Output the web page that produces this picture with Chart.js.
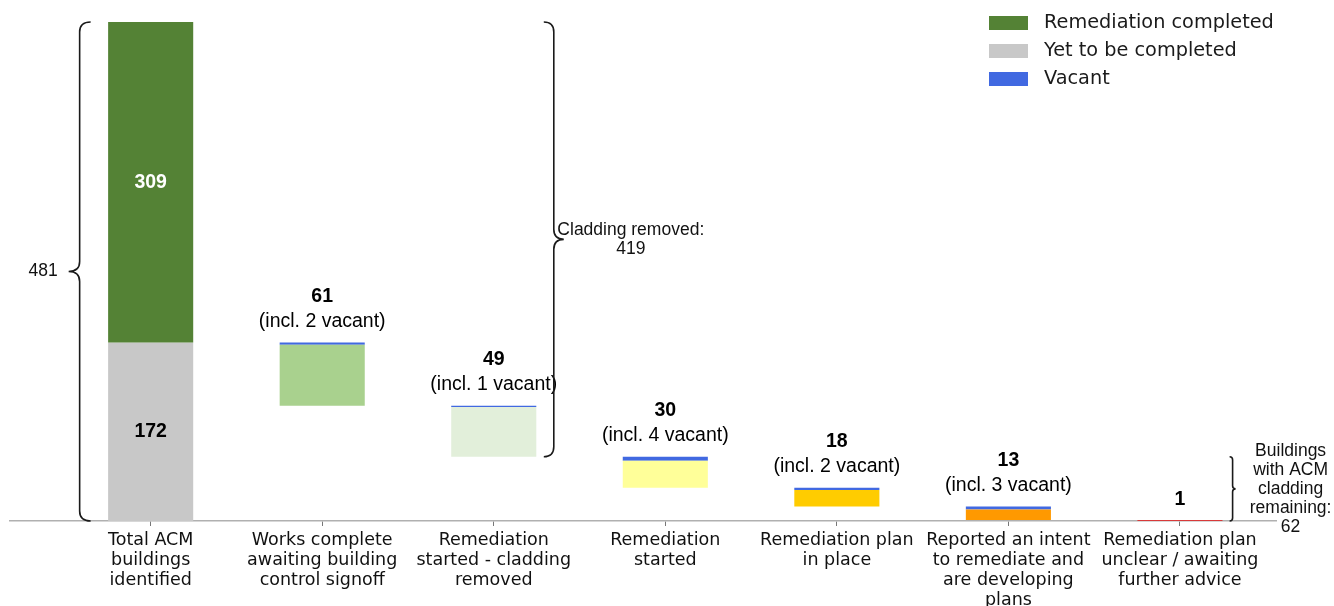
<!DOCTYPE html>
<html>
<head>
<meta charset="utf-8">
<script src="https://cdn.jsdelivr.net/npm/chart.js@4/dist/chart.umd.min.js"></script>
<style>
  html, body { margin: 0; padding: 0; background: #fff; }
  #wrap { width: 1334px; height: 606px; position: relative; }
</style>
</head>
<body>
<div id="wrap"><canvas id="acmChart"></canvas></div>
<script>
const categories = [
    ['Total ACM', 'buildings', 'identified'],
    ['Works complete', 'awaiting building', 'control signoff'],
    ['Remediation', 'started - cladding', 'removed'],
    ['Remediation', 'started'],
    ['Remediation plan', 'in place'],
    ['Reported an intent', 'to remediate and', 'are developing', 'plans'],
    ['Remediation plan', 'unclear / awaiting', 'further advice']
];

const totalBuildings = 481;
const completedCount = 309;
const yetToCompleteCount = 172;
const stageCounts = [61, 49, 30, 18, 13, 1];
const stageVacant = [2, 1, 4, 2, 3, 0];
const claddingRemoved = 419;
const claddingRemaining = 62;

const stageColors = ['#a9d18e', '#e2efda', '#ffff99', '#ffcc00', '#ff9900', '#d83a3a'];
const legendItems = [
    { text: 'Remediation completed', color: '#548235' },
    { text: 'Yet to be completed', color: '#c8c8c8' },
    { text: 'Vacant', color: '#4169e1' }
];

// build the floating segments of the waterfall
function buildSegments() {
    const stages = [];
    const vacant = [];
    let top = yetToCompleteCount;
    stageCounts.forEach((count, i) => {
        const vac = stageVacant[i];
        const bottom = top - count;
        stages.push({ x: i + 1, y: [bottom, top - vac] });
        if (vac > 0) vacant.push({ x: i + 1, y: [top - vac, top] });
        top = bottom;
    });
    return { stages, vacant };
}

const segs = buildSegments();

function drawBrace(ctx, x, yTop, yBot, dir, w, r) {
    // dir = -1: cusp points left, dir = 1: cusp points right
    const yMid = (yTop + yBot) / 2;
    ctx.beginPath();
    ctx.moveTo(x - dir * w, yTop);
    ctx.quadraticCurveTo(x, yTop, x, yTop + r);
    ctx.lineTo(x, yMid - r);
    ctx.quadraticCurveTo(x, yMid, x + dir * w, yMid);
    ctx.quadraticCurveTo(x, yMid, x, yMid + r);
    ctx.lineTo(x, yBot - r);
    ctx.quadraticCurveTo(x, yBot, x - dir * w, yBot);
    ctx.stroke();
}

const annotationsPlugin = {
    id: 'annotations',
    afterDatasetsDraw(chart) {
        const ctx = chart.ctx;
        const xs = chart.scales.x;
        const ys = chart.scales.y;
        ctx.save();

        // value labels on the first bar
        const x0 = xs.getPixelForValue(0);
        ctx.textAlign = 'center';
        ctx.textBaseline = 'middle';
        ctx.font = 'bold 19.5px "Liberation Sans", Arial, sans-serif';
        ctx.fillStyle = '#ffffff';
        ctx.fillText(String(completedCount), x0, ys.getPixelForValue(yetToCompleteCount + completedCount / 2));
        ctx.fillStyle = '#000000';
        ctx.fillText(String(yetToCompleteCount), x0, ys.getPixelForValue(yetToCompleteCount / 2));

        // stage labels above each floating bar
        let top = yetToCompleteCount;
        stageCounts.forEach((count, i) => {
            const px = xs.getPixelForValue(i + 1);
            const py = ys.getPixelForValue(top);
            ctx.fillStyle = '#000000';
            if (stageVacant[i] > 0) {
                ctx.font = 'bold 19.5px "Liberation Sans", Arial, sans-serif';
                ctx.fillText(String(count), px, py - 46);
                ctx.font = '19.5px "Liberation Sans", Arial, sans-serif';
                ctx.fillText('(incl. ' + stageVacant[i] + ' vacant)', px, py - 21);
            } else {
                ctx.font = 'bold 19.5px "Liberation Sans", Arial, sans-serif';
                ctx.fillText(String(count), px, py - 20);
            }
            top -= count;
        });

        // braces
        ctx.strokeStyle = '#1a1a1a';
        ctx.lineWidth = 1.6;
        const yZero = ys.getPixelForValue(0);
        const yTotal = ys.getPixelForValue(totalBuildings);
        const yRemain = ys.getPixelForValue(claddingRemaining);

        const bl = xs.getPixelForValue(-0.414);
        drawBrace(ctx, bl, yTotal, yZero, -1, 11, 10);
        ctx.font = '17.5px "Liberation Sans", Arial, sans-serif';
        ctx.textAlign = 'right';
        ctx.fillStyle = '#111111';
        ctx.fillText(String(totalBuildings), bl - 22, (yTotal + yZero) / 2);

        const bm = xs.getPixelForValue(2.35);
        drawBrace(ctx, bm, yTotal, yRemain, 1, 10, 10);
        ctx.textAlign = 'center';
        const midM = (yTotal + yRemain) / 2;
        ctx.fillText('Cladding removed:', bm + 77, midM - 9.5);
        ctx.fillText(String(claddingRemoved), bm + 77, midM + 9.5);

        const br = xs.getPixelForValue(6.307);
        drawBrace(ctx, br, yRemain, yZero, 1, 3, 3);
        const midR = (yRemain + yZero) / 2;
        const rLines = ['Buildings', 'with ACM', 'cladding', 'remaining:', String(claddingRemaining)];
        rLines.forEach((t, k) => {
            ctx.fillText(t, br + 58, midR + (k - 2) * 19);
        });

        // legend
        ctx.textAlign = 'left';
        ctx.font = '19.3px "DejaVu Sans", sans-serif';
        legendItems.forEach((item, k) => {
            const cy = 23 + k * 28;
            ctx.fillStyle = item.color;
            ctx.fillRect(989, cy - 7, 39, 14);
            ctx.fillStyle = '#1a1a1a';
            ctx.fillText(item.text, 1044, cy);
        });

        ctx.restore();
    }
};

function createAcmChart(ctx) {
    return new Chart(ctx, {
        type: 'bar',
        data: {
            datasets: [{
                label: 'Remediation completed',
                data: [{ x: 0, y: [yetToCompleteCount, yetToCompleteCount + completedCount] }],
                backgroundColor: '#548235'
            }, {
                label: 'Yet to be completed',
                data: [{ x: 0, y: [0, yetToCompleteCount] }],
                backgroundColor: '#c8c8c8'
            }, {
                label: 'Stages',
                data: segs.stages,
                backgroundColor: stageColors
            }, {
                label: 'Vacant',
                data: segs.vacant,
                backgroundColor: '#4169e1'
            }]
        },
        options: {
            responsive: true,
            maintainAspectRatio: false,
            animation: false,
            layout: {
                padding: { left: 10, right: 58, top: 22, bottom: 0 }
            },
            datasets: {
                bar: {
                    grouped: false,
                    categoryPercentage: 1,
                    barPercentage: 0.496,
                    borderWidth: 0
                }
            },
            scales: {
                x: {
                    type: 'linear',
                    min: -0.82,
                    max: 6.56,
                    offset: false,
                    afterFit: (scale) => { scale.height = 85; },
                    border: {
                        display: true,
                        color: '#b0b0b0',
                        width: 1.5
                    },
                    grid: {
                        display: true,
                        offset: false,
                        drawOnChartArea: false,
                        drawTicks: true,
                        tickLength: 5,
                        tickColor: '#777777',
                        tickWidth: 1
                    },
                    ticks: {
                        stepSize: 1,
                        includeBounds: false,
                        autoSkip: false,
                        maxRotation: 0,
                        padding: 4,
                        color: '#111111',
                        font: { family: '"DejaVu Sans", sans-serif', size: 17.5, lineHeight: '20px' },
                        callback: (v) => (Number.isInteger(v) && v >= 0 && v < categories.length) ? categories[v] : ''
                    }
                },
                y: {
                    display: false,
                    min: 0,
                    max: totalBuildings
                }
            },
            plugins: {
                legend: { display: false },
                tooltip: { enabled: false }
            }
        },
        plugins: [annotationsPlugin]
    });
}

document.addEventListener('DOMContentLoaded', () => {
    const ctx = document.getElementById('acmChart').getContext('2d');
    createAcmChart(ctx);
});
</script>
</body>
</html>
